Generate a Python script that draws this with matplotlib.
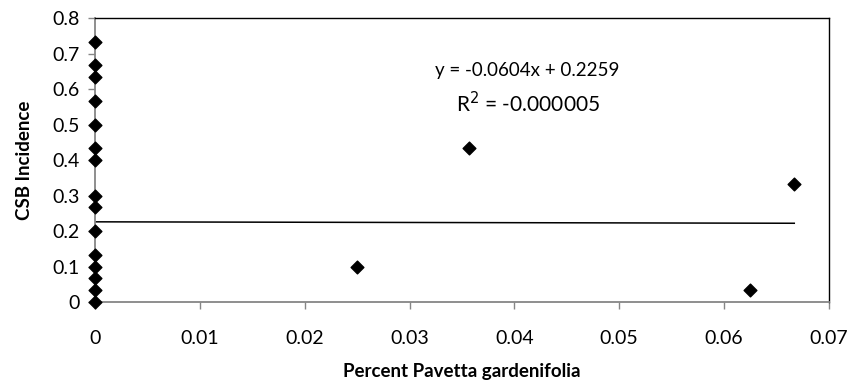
import matplotlib
matplotlib.use('Agg')
import matplotlib.pyplot as plt
import numpy as np

plt.rcParams['font.family'] = ['Lato', 'DejaVu Sans']

# data
pct_pavetta = [0, 0, 0, 0, 0, 0, 0, 0, 0, 0, 0, 0, 0, 0, 0,
               0.025, 0.0357, 0.0625, 0.0667]
csb_incidence = [0.733, 0.667, 0.633, 0.567, 0.5, 0.433, 0.4, 0.3, 0.267,
                 0.2, 0.133, 0.1, 0.067, 0.033, 0.0,
                 0.1, 0.433, 0.033, 0.333]
slope = -0.0604
intercept = 0.2259
x_ticks = [0, 0.01, 0.02, 0.03, 0.04, 0.05, 0.06, 0.07]
y_ticks = [0, 0.1, 0.2, 0.3, 0.4, 0.5, 0.6, 0.7, 0.8]

fig = plt.figure(figsize=(8.51, 3.85), dpi=100)
ax = fig.add_axes([0.1116, 0.2156, 0.8624, 0.7374])

ax.scatter(pct_pavetta, csb_incidence, marker='D', s=42, color='black',
           zorder=3, clip_on=False)

# linear trendline
xt = np.array([0, max(pct_pavetta)])
ax.plot(xt, slope * xt + intercept, color='black', lw=1.1, zorder=2)

ax.text(0.0412, 0.653, 'y = -0.0604x + 0.2259', ha='center', va='center',
        fontsize=13.5)
ax.text(0.0413, 0.56, 'R$^2$ = -0.000005', ha='center', va='center',
        fontsize=15)

ax.set_xlim(0, 0.07)
ax.set_ylim(0, 0.8)
ax.set_xticks(x_ticks)
ax.set_xticklabels(['0'] + ['%.2f' % v for v in x_ticks[1:]])
ax.set_yticks(y_ticks)
ax.set_yticklabels(['0'] + ['%.1f' % v for v in y_ticks[1:]])

for side in ['top', 'right']:
    ax.spines[side].set_color('black')
    ax.spines[side].set_linewidth(1.0)
for side in ['left', 'bottom']:
    ax.spines[side].set_color('#868686')
    ax.spines[side].set_linewidth(1.3)
ax.tick_params(direction='out', length=5, width=1, color='#868686',
               labelsize=14, labelcolor='black')
ax.tick_params(axis='x', pad=15)
ax.tick_params(axis='y', pad=6)

ax.set_xlabel('Percent Pavetta gardenifolia', fontsize=13.5, fontweight='bold',
              labelpad=12)
ax.set_ylabel('CSB Incidence', fontsize=13.5, fontweight='bold', labelpad=14)

fig.savefig('out.png', dpi=100)
